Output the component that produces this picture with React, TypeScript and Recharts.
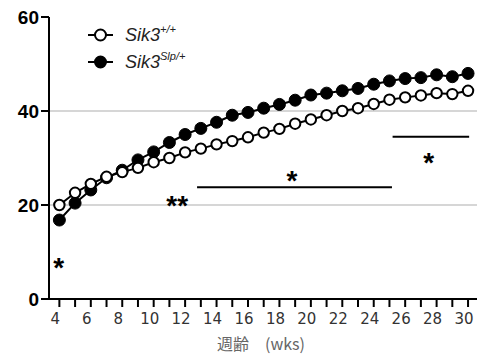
import React from 'react';
import { LineChart, Line, XAxis, YAxis, ReferenceLine, ReferenceDot, Label } from 'recharts';

const weeks = [4, 5, 6, 7, 8, 9, 10, 11, 12, 13, 14, 15, 16, 17, 18, 19, 20, 21, 22, 23, 24, 25, 26, 27, 28, 29, 30];
const wildType = [20.0, 22.6, 24.5, 26.0, 27.0, 27.9, 29.1, 30.0, 31.2, 32.0, 32.9, 33.6, 34.4, 35.4, 36.2, 37.3, 38.2, 39.1, 40.0, 40.6, 41.5, 42.4, 42.9, 43.3, 43.8, 43.6, 44.3];
const sleepy = [16.8, 20.4, 23.2, 25.8, 27.4, 29.6, 31.3, 33.3, 35.0, 36.3, 37.6, 39.1, 39.7, 40.6, 41.4, 42.3, 43.4, 43.8, 44.3, 44.8, 45.7, 46.4, 46.9, 47.1, 47.7, 47.3, 48.0];
const yTicks = [0, 20, 40, 60];
const gridValues = [20, 40];

// significance bars: [fromWeek, toWeek, y]
const sigBars = [
  [12.76, 25.16, 23.8],
  [25.2, 30.07, 34.5],
];
// asterisk labels: [week, y, text]
const stars: [number, number, string][] = [
  [3.95, 7.7, '*'],
  [11.5, 20.9, '**'],
  [18.8, 26.2, '*'],
  [27.5, 30.0, '*'],
];

const data = weeks.map((w, i) => ({ week: w, wt: wildType[i], slp: sleepy[i] }));

function LegendBox() {
  const rows = [
    { name: 'Sik3', sup: '+/+', filled: false },
    { name: 'Sik3', sup: 'Slp/+', filled: true },
  ];
  return (
    <svg width={160} height={60} style={{ display: 'block' }}>
      {rows.map((r, i) => {
        const y = 13 + i * 27;
        return (
          <g key={i}>
            <line x1={3} x2={28} y1={y} y2={y} stroke="#000" strokeWidth={2} />
            <circle cx={15.5} cy={y} r={5.5} fill={r.filled ? '#000' : '#fff'} stroke="#000" strokeWidth={2} />
            <text x={40} y={y + 6} fontFamily="Liberation Sans, Arial" fontStyle="italic" fontSize={18} fill="#222">
              {r.name}
              <tspan fontSize={11} dy={-8}>{r.sup}</tspan>
            </text>
          </g>
        );
      })}
    </svg>
  );
}

function XTick(props: any) {
  const { x, y, payload } = props;
  const v = payload.value;
  return (
    <g>
      <line x1={x} x2={x} y1={y - 7} y2={y} stroke="#000" strokeWidth={2} />
      {v % 2 === 0 && (
        <text x={x - 4} y={y + 17} textAnchor="middle" fontFamily="DejaVu Sans" fontSize={15} fill="#333">
          {v}
        </text>
      )}
    </g>
  );
}

export default function App() {
  return (
    <div style={{ position: 'absolute', left: 0, top: 0, width: 477, height: 359, background: '#fff' }}>
      <LineChart width={477} height={359} data={data} margin={{ top: 17, right: 0, left: 0, bottom: 0 }}>
        <XAxis
          dataKey="week"
          type="number"
          domain={[3.34, 30.57]}
          ticks={weeks}
          interval={0}
          allowDataOverflow
          tickLine={false}
          tick={<XTick />}
          height={60}
          stroke="#000"
          strokeWidth={2}
        >
          <Label value="週齢　(wks)" position="insideBottom" offset={9} fontFamily="Noto Sans CJK JP" fontSize={16} fill="#666" dx={-2} />
        </XAxis>
        <YAxis
          domain={[0, 60]}
          ticks={yTicks}
          width={49}
          stroke="#000"
          strokeWidth={2}
          tickSize={8}
          tick={{ fontFamily: 'Liberation Sans, Arial', fontWeight: 'bold', fontSize: 19, fill: '#000' }}
        />
        {gridValues.map((g) => (
          <ReferenceLine key={g} y={g} stroke="#c8c8c8" strokeWidth={1.5} />
        ))}
        {sigBars.map((b, i) => (
          <ReferenceLine
            key={'b' + i}
            segment={[{ x: b[0], y: b[2] }, { x: b[1], y: b[2] }]}
            stroke="#000"
            strokeWidth={2}
          />
        ))}
        <Line
          dataKey="slp"
          stroke="#000"
          strokeWidth={2}
          dot={{ r: 6, fill: '#000', stroke: '#000', strokeWidth: 1 }}
          isAnimationActive={false}
        />
        <Line
          dataKey="wt"
          stroke="#000"
          strokeWidth={2}
          dot={{ r: 5.2, fill: '#fff', stroke: '#000', strokeWidth: 2 }}
          isAnimationActive={false}
        />
        {stars.map((s, i) => (
          <ReferenceDot
            key={'s' + i}
            x={s[0]}
            y={s[1]}
            r={0}
            label={{ value: s[2], position: 'center', fontSize: 28, fontWeight: 'bold', fontFamily: 'Liberation Sans, Arial', fill: '#000', dy: 4 }}
          />
        ))}
      </LineChart>
      <div style={{ position: 'absolute', left: 85, top: 22 }}>
        <LegendBox />
      </div>
    </div>
  );
}
